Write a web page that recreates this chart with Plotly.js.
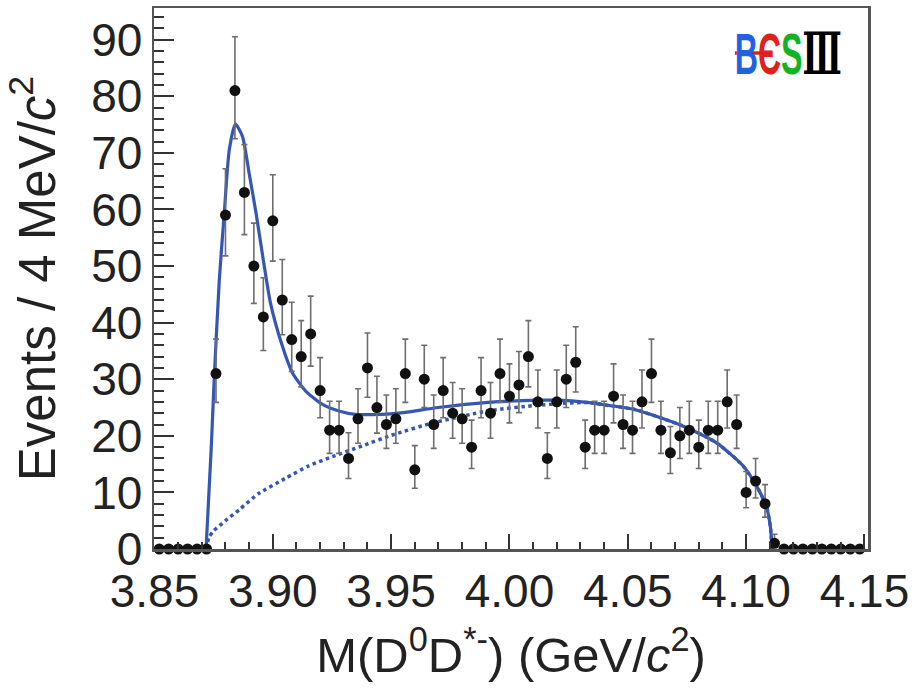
<!DOCTYPE html>
<html>
<head>
<meta charset="utf-8">
<script src="https://cdn.plot.ly/plotly-3.0.1.min.js"></script>
<style>html,body{margin:0;padding:0;background:#fff;}#chart{width:914px;height:688px;}</style>
</head>
<body>
<div id="chart"></div>
<script>
// Bin centres (GeV/c^2), 4 MeV bins
var mass = [3.852,3.856,3.860,3.864,3.868,3.872,
  3.876,3.880,3.884,3.888,3.892,3.896,3.900,3.904,3.908,3.912,3.916,3.920,3.924,3.928,3.932,3.936,3.940,3.944,3.948,3.952,
  3.956,3.960,3.964,3.968,3.972,3.976,3.980,3.984,3.988,3.992,3.996,4.000,4.004,4.008,4.012,4.016,4.020,4.024,4.028,4.032,4.036,4.040,4.044,4.048,4.052,
  4.056,4.060,4.064,4.068,4.072,4.076,4.080,4.084,4.088,4.092,4.096,4.100,4.104,4.108,4.112,
  4.116,4.120,4.124,4.128,4.132,4.136,4.140,4.144,4.148];
var events = [0,0,0,0,0,0,
  31,59,81,63,50,41,58,44,37,34,38,28,21,21,16,23,32,25,22,23,
  31,14,30,22,28,24,23,18,28,24,31,27,29,34,26,16,26,30,33,18,21,21,27,22,21,
  26,31,21,17,20,21,18,21,21,26,22,10,12,8,1,
  0,0,0,0,0,0,0,0,0];

// Total fit curve (solid)
var fitX = [3.8718,3.8740,3.8753,3.8774,3.8795,3.8816,3.8842,3.8872,3.8900,3.8929,3.8962,3.8990,3.9040,3.9082,3.9139,3.9208,3.9279,3.9349,3.9460,3.9531,3.9699,3.9909,4.0119,4.0203,4.0329,4.0413,4.0525,4.0595,4.0735,4.0874,4.0987,4.1043,4.1085,4.1102,4.1110];
var fitY = [0,18,30.6,47.6,59.4,70.5,75.1,72.9,66.4,59.4,50.5,43.5,35.9,31.2,27.9,25.6,24.4,23.8,23.8,24.0,25.0,25.9,26.3,26.3,25.9,25.4,24.7,23.8,21.7,18.8,14.7,11.2,7.6,4.1,0];

// Background curve (dotted)
var bkgX = [3.8718,3.8730,3.8750,3.8800,3.8860,3.8940,3.9054,3.9152,3.9264,3.9376,3.9516,3.9670,3.9909,4.0119,4.0329,4.0413,4.0525,4.0595,4.0735,4.0874,4.0987,4.1043,4.1085,4.1102,4.1110];
var bkgY = [0,2.0,3.2,5.0,7.0,9.8,12.5,14.7,16.5,18.2,20.3,22.2,24.4,25.4,25.9,25.4,24.7,23.8,21.7,18.8,14.7,11.2,7.6,4.1,0];

var xTicks = [3.85,3.90,3.95,4.00,4.05,4.10,4.15];
var xTickText = ['3.85','3.90','3.95','4.00','4.05','4.10','4.15'];
var yTicks = [0,10,20,30,40,50,60,70,80,90];
var yTickText = ['0','10','20','30','40','50','60','70','80','90'];

// Poisson-style asymmetric errors from counts (none for empty bins)
var errUp = events.map(function(n){ return n > 0 ? 0.5 + Math.sqrt(n + 0.25) : 0; });
var errDn = events.map(function(n){ return n > 0 ? Math.sqrt(n + 0.25) - 0.5 : 0; });

var blue = '#3656b3';
var traces = [
  {x: bkgX, y: bkgY, type: 'scatter', mode: 'lines', line: {color: blue, width: 3.5, dash: 'dot', shape: 'spline', smoothing: 0.6}, hoverinfo: 'skip'},
  {x: fitX, y: fitY, type: 'scatter', mode: 'lines', line: {color: blue, width: 3.2, shape: 'spline', smoothing: 0.6}, hoverinfo: 'skip'},
  {x: mass, y: events, type: 'scatter', mode: 'markers', cliponaxis: false,
   marker: {color: '#111', size: 11},
   error_y: {type: 'data', symmetric: false, array: errUp, arrayminus: errDn, color: '#6e6e6e', thickness: 1.6, width: 3}}
];

var fontMain = 'Liberation Sans, Arial, Helvetica, sans-serif';
var layout = {
  width: 914, height: 688,
  margin: {l: 154, r: 46, t: 8, b: 139},
  paper_bgcolor: '#fff', plot_bgcolor: '#fff',
  showlegend: false,
  font: {family: fontMain, color: '#222'},
  xaxis: {
    range: [3.8498, 4.1515], tickmode: 'array', tickvals: xTicks, ticktext: xTickText,
    ticks: 'inside', ticklen: 15, tickwidth: 2, tickcolor: '#333',
    minor: {tickmode: 'linear', tick0: 3.85, dtick: 0.01, ticks: 'inside', ticklen: 7, tickwidth: 2, tickcolor: '#333', showgrid: false},
    showline: true, linecolor: '#555', linewidth: 2.5, mirror: true,
    showgrid: false, zeroline: false,
    tickfont: {family: fontMain, size: 46, color: '#222'},
    title: {text: 'M(D<sup>0</sup>D<sup>*-</sup>) (GeV/<i>c</i><sup>2</sup>)', font: {family: fontMain, size: 49, color: '#222'}, standoff: 22}
  },
  yaxis: {
    range: [0, 95.6], tickmode: 'array', tickvals: yTicks, ticktext: yTickText,
    ticks: 'inside', ticklen: 20, tickwidth: 2, tickcolor: '#333',
    minor: {tickmode: 'linear', tick0: 0, dtick: 2, ticks: 'inside', ticklen: 10, tickwidth: 2, tickcolor: '#333', showgrid: false},
    showline: true, linecolor: '#555', linewidth: 2.5, mirror: true,
    showgrid: false, zeroline: false,
    tickfont: {family: fontMain, size: 46, color: '#222'},
    title: {text: 'Events / 4 MeV/<i>c</i><sup>2</sup>', font: {family: fontMain, size: 51, color: '#222'}, standoff: 20}
  },
  shapes: [
    // red crossbar of the BESIII logo
    {type: 'line', xref: 'paper', yref: 'paper', x0: 0.8137, x1: 0.862, y0: 0.9168, y1: 0.9168, line: {color: '#e0201c', width: 3.5}, layer: 'above'}
  ],
  annotations: [
    {xref: 'paper', yref: 'paper', x: 0.888, y: 0.915, xanchor: 'center', yanchor: 'middle', showarrow: false,
     text: '<b><span style="color:#1f63e0">B</span><span style="color:#e0201c">Є</span><span style="color:#12b321">S</span></b><span style="color:#000;font-family:DejaVu Serif;font-weight:bold">Ⅲ</span>',
     font: {family: 'Liberation Sans, sans-serif', size: 58}}
  ]
};

Plotly.newPlot('chart', traces, layout, {displayModeBar: false, staticPlot: true}).then(function(gd){
  // condense the logo horizontally to match its narrow lettering
  var t = gd.querySelector('.annotation-text');
  if (t) {
    var bb = t.getBBox();
    var cx = bb.x + bb.width / 2;
    var s = 107 / bb.width;
    t.setAttribute('transform', 'translate(' + cx + ',0) scale(' + s + ',1) translate(' + (-cx) + ',0)');
  }
});
</script>
</body>
</html>
